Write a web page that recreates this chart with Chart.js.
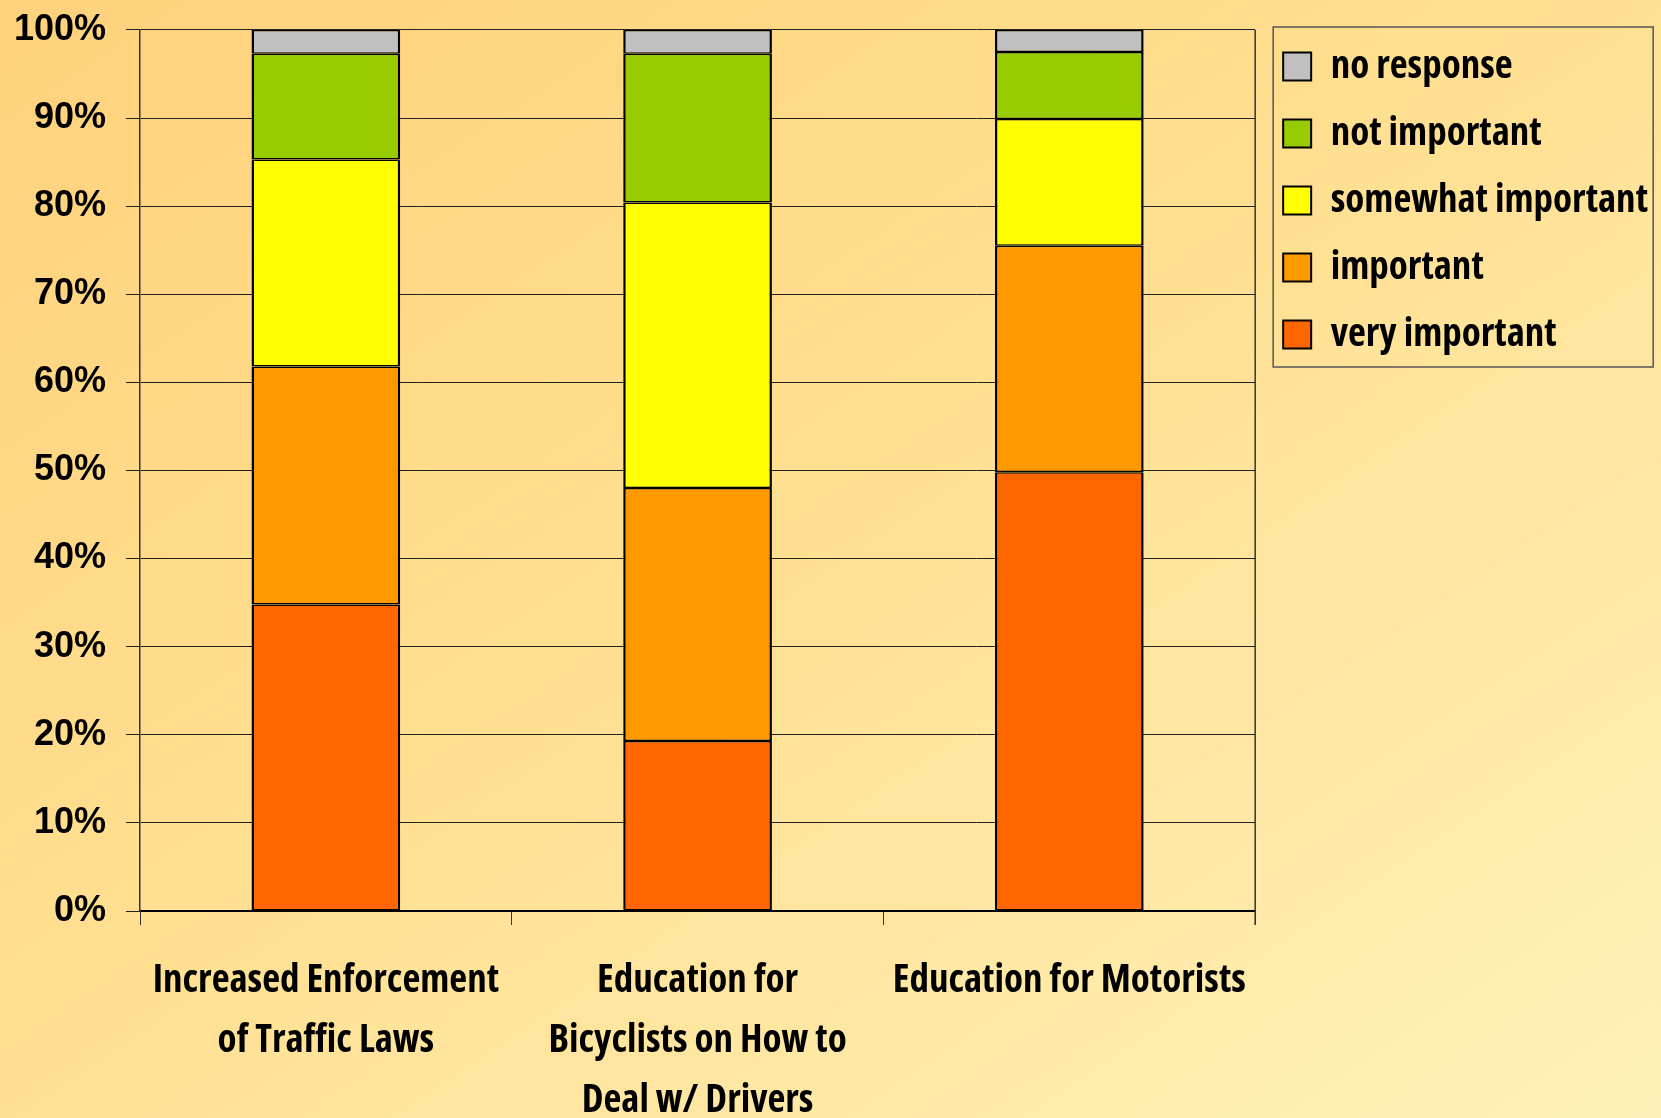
<!DOCTYPE html>
<html>
<head>
<meta charset="utf-8">
<script src="https://cdn.jsdelivr.net/npm/chart.js@4"></script>
<style>
  html, body { margin: 0; padding: 0; }
  body {
    width: 1661px; height: 1118px; overflow: hidden;
    background: linear-gradient(to bottom right, #FFD17C 0%, #FFDF90 45%, #FFF1B9 100%);
  }
  #wrap { position: relative; width: 1661px; height: 1118px; }
</style>
</head>
<body>
<div id="wrap"><canvas id="surveyChart" width="1661" height="1118"></canvas></div>
<script>
// categories and stacked shares (percent of respondents)
const categories = [
    ['Increased Enforcement', 'of Traffic Laws'],
    ['Education for', 'Bicyclists on How to', 'Deal w/ Drivers'],
    'Education for Motorists'
];
const veryImportant = [34.8, 19.3, 49.8];
const important = [27.0, 28.7, 25.7];
const somewhatImportant = [23.5, 32.4, 14.4];
const notImportant = [12.0, 16.9, 7.6];
const noResponse = [2.7, 2.7, 2.5];
const yTicks = [0, 10, 20, 30, 40, 50, 60, 70, 80, 90, 100];

// condensed bold face, close to the narrow font of the original
const narrow = '"Open Sans", "DejaVu Sans Condensed", sans-serif';

// plot frame on the right and box around the legend
const frames = {
    id: 'frames',
    afterDraw(chart) {
        const ca = chart.chartArea;
        const ctx = chart.ctx;
        ctx.save();
        ctx.strokeStyle = '#333';
        ctx.lineWidth = 1.5;
        ctx.beginPath();
        ctx.moveTo(ca.right, ca.top);
        ctx.lineTo(ca.right, ca.bottom + 14);
        ctx.stroke();
        ctx.strokeStyle = '#555';
        ctx.strokeRect(ca.right + 18, 27, 380, 340);
        ctx.restore();
    }
};

let surveyChart;

window.onload = function() {
    const ctx = document.getElementById('surveyChart').getContext('2d');
    surveyChart = new Chart(ctx, {
        type: 'bar',
        data: {
            labels: categories,
            datasets: [
                { label: 'very important', data: veryImportant, backgroundColor: '#FF6600' },
                { label: 'important', data: important, backgroundColor: '#FF9900' },
                { label: 'somewhat important', data: somewhatImportant, backgroundColor: '#FFFF00' },
                { label: 'not important', data: notImportant, backgroundColor: '#99CC00' },
                { label: 'no response', data: noResponse, backgroundColor: '#C0C0C0' }
            ].map(d => Object.assign(d, {
                borderColor: '#000',
                borderWidth: { top: 1.5, bottom: 1.5, left: 2.5, right: 2.5 },
                borderSkipped: false,
                categoryPercentage: 1, barPercentage: 0.4
            }))
        },
        options: {
            responsive: false,
            animation: false,
            layout: { padding: { top: 19, left: 0, right: 3, bottom: 0 } },
            plugins: {
                tooltip: { enabled: false },
                legend: {
                    position: 'right',
                    align: 'start',
                    reverse: true,
                    labels: {
                        color: '#000',
                        font: { family: narrow, size: 39, weight: 'bold condensed' },
                        boxWidth: 28, boxHeight: 28, padding: 28
                    }
                }
            },
            scales: {
                x: {
                    stacked: true,
                    grid: { display: true, drawOnChartArea: false, offset: true, tickLength: 14, color: '#333' },
                    border: { display: true, color: '#000', width: 2 },
                    ticks: {
                        color: '#000', padding: 26, maxRotation: 0, autoSkip: false,
                        font: { family: narrow, size: 39, weight: 'bold condensed', lineHeight: 1.54 }
                    },
                    afterFit: (scale) => { scale.height = 207; }
                },
                y: {
                    stacked: true,
                    min: 0, max: 100,
                    afterBuildTicks: (scale) => { scale.ticks = yTicks.map(v => ({ value: v })); },
                    grid: { color: '#222', lineWidth: 1, tickLength: 14 },
                    border: { display: true, color: '#333', width: 1.5 },
                    ticks: {
                        color: '#000', padding: 20,
                        font: { family: '"Liberation Sans", Arial, sans-serif', size: 36, weight: 'bold', lineHeight: 0.55 },
                        callback: v => v + '%'
                    },
                    afterFit: (scale) => { scale.width = 140; }
                }
            }
        },
        plugins: [frames]
    });
};
</script>
</body>
</html>
